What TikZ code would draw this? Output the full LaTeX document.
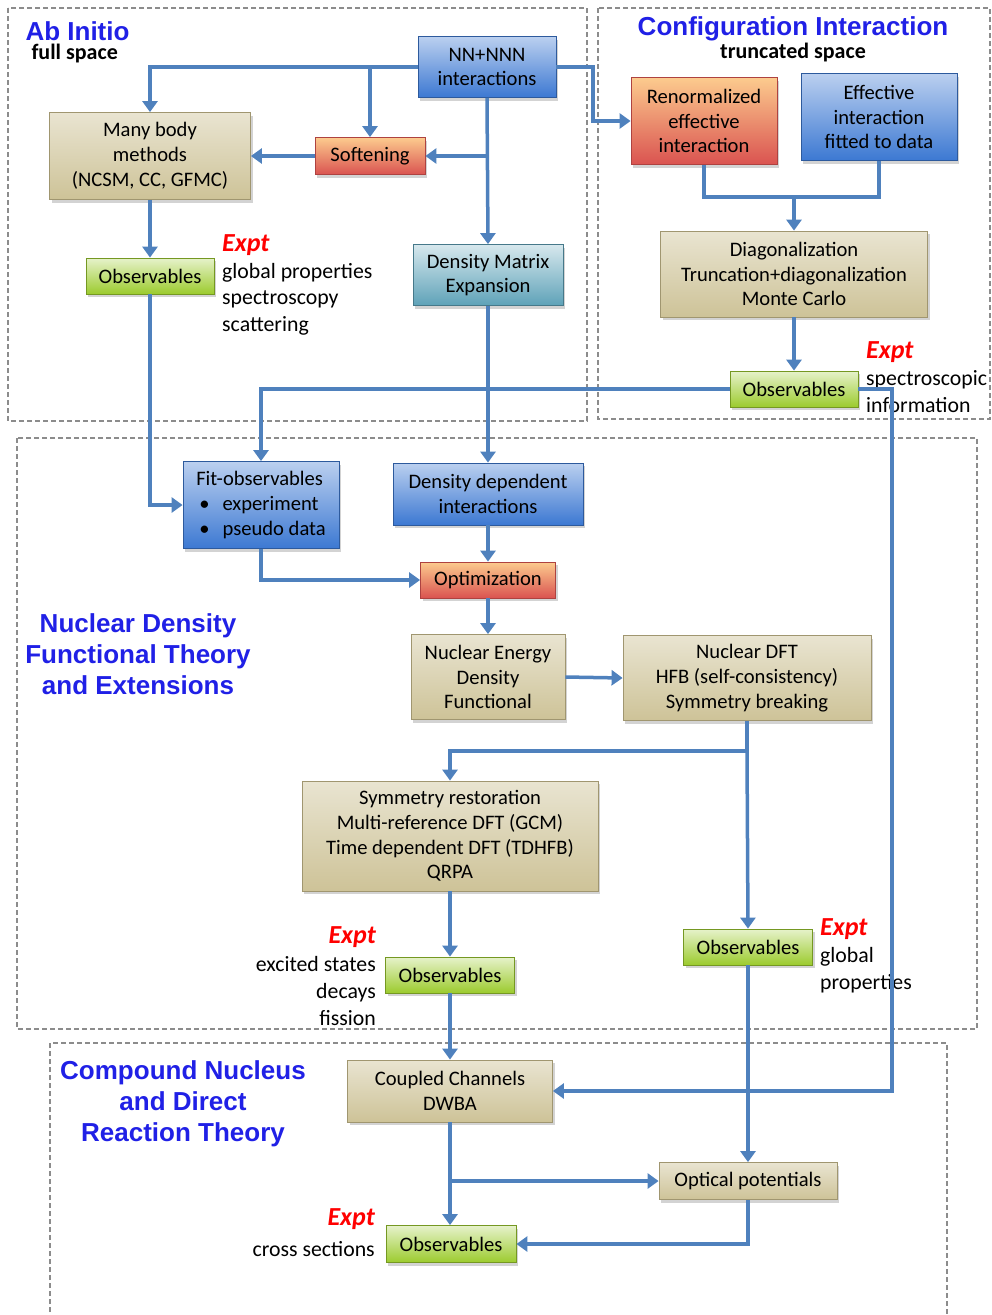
\documentclass[tikz,border=0pt]{standalone}
\usepackage{fontspec}
\setmainfont{Carlito}
\newfontfamily\headfont{Liberation Sans}
\usepackage{tikz}
\usetikzlibrary{arrows.meta,shadows,positioning}

\definecolor{arrowc}{HTML}{4F81BD}
\definecolor{headc}{HTML}{2020E6}
\definecolor{framec}{HTML}{8C8C8C}
\definecolor{tanc}{HTML}{C8BC8C}
\definecolor{bluc}{HTML}{3C78D2}
\definecolor{orac}{HTML}{FCCB8E}
\definecolor{redc}{HTML}{DA5350}
\definecolor{grnc}{HTML}{9CCB2E}
\definecolor{cyac}{HTML}{5EA2B8}

\newcommand{\expt}{{\fontsize{26}{28}\selectfont\color{red}\bfseries\itshape Expt}}

\begin{document}
\begin{tikzpicture}[
x=1pt,y=-1pt,
box/.style={
  draw,
  line width=0.8pt,
  align=center,
  inner sep=0pt,
  font=\fontsize{20.6}{24.8}\selectfont,
  drop shadow={shadow xshift=2pt,shadow yshift=-3pt,opacity=0.35}
},
sz/.style 2 args={minimum width=#1pt,minimum height=#2pt},
tanb/.style={box,draw=tanc!80!black,top color=tanc!40!white,bottom color=tanc!90!white},
blub/.style={box,draw=bluc!75!black,top color=bluc!35!white,bottom color=bluc},
redb/.style={box,draw=redc!80!black,top color=orac,bottom color=redc},
grnb/.style={box,draw=grnc!75!black,top color=grnc!25!white,bottom color=grnc},
cyab/.style={box,draw=cyac!75!black,top color=cyac!25!white,bottom color=cyac},
arr/.style={draw=arrowc,line width=3.5pt,-{Triangle[length=11pt,width=15pt]}},
ln/.style={draw=arrowc,line width=3.5pt},
frame/.style={draw=framec,line width=1.3pt,dash pattern=on 5pt off 3pt},
title/.style={headc,align=center,font=\headfont\bfseries\fontsize{26}{31}\selectfont},
sub/.style={font=\bfseries\fontsize{22}{24}\selectfont},
obs/.style={inner sep=0pt,font=\fontsize{21.8}{26.8}\selectfont}
]
\useasboundingbox (0,0) rectangle (992,1315);

% dashed regions
\draw[frame] (8,8) rectangle (587,421);
\draw[frame] (598,8) rectangle (990,419);
\draw[frame] (17,438) rectangle (977,1029);
\draw[frame] (50,1320) -- (50,1043) -- (947,1043) -- (947,1320);

% titles
\node[title,anchor=west] (tai) at (22,31) {Ab Initio};
\node[sub,anchor=west] (fs) at (28,54) {full space};
\node[title] (tci) at (793,29) {Configuration Interaction};
\node[sub] (ts) at (793,53) {truncated space};
\node[title] (tdft) at (138,654) {Nuclear Density\\Functional Theory\\and Extensions};
\node[title] (tcn) at (183,1104) {Compound Nucleus\\and Direct\\Reaction Theory};

% ab initio
\node[blub,sz={138}{61}] at (487,67) (nn) {NN+NNN\\interactions};
\node[tanb,sz={201}{87}] at (150,156) (mb) {Many body\\methods\\(NCSM, CC, GFMC)};
\node[redb,sz={110}{37}] at (370,156) (sft) {Softening};
\node[grnb,sz={128}{36}] at (150,276) (obs1) {Observables};
\node[cyab,sz={150}{61}] at (488,275) (dme) {Density Matrix\\Expansion};
\node[obs,anchor=west,align=left] at (222,285) (ex1)
  {\expt\\global properties\\spectroscopy\\scattering};

% configuration interaction
\node[redb,sz={146}{87}] at (704,121) (ren) {Renormalized\\effective\\interaction};
\node[blub,sz={156}{87}] at (879,117) (eff) {Effective\\interaction\\fitted to data};
\node[tanb,sz={267}{86}] at (794,274) (diag) {Diagonalization\\Truncation+diagonalization\\Monte Carlo};
\node[grnb,sz={128}{36}] at (794,389) (obsci) {Observables};
\node[obs,anchor=west,align=left] at (866,377) (ex2)
  {\expt\\spectroscopic\\information};

% density functional theory
\node[blub,sz={156}{87},align=left] at (261,505) (fit)
  {Fit-observables\\\hspace{3pt}\textbullet\hspace{13pt}experiment\\\hspace{3pt}\textbullet\hspace{13pt}pseudo data};
\node[blub,sz={190}{62}] at (488,494) (dd) {Density dependent\\interactions};
\node[redb,sz={135}{36}] at (488,580) (opt) {Optimization};
\node[tanb,sz={154}{85}] at (488,677) (nedf) {Nuclear Energy\\Density\\Functional};
\node[tanb,sz={248}{85}] at (747,678) (ndft) {Nuclear DFT\\HFB (self-consistency)\\Symmetry breaking};
\node[tanb,sz={296}{110}] at (450,836) (sym)
  {Symmetry restoration\\Multi-reference DFT (GCM)\\Time dependent DFT (TDHFB)\\QRPA};
\node[grnb,sz={129}{36}] at (450,975) (obsl) {Observables};
\node[grnb,sz={129}{36}] at (748,947) (obsr) {Observables};
\node[obs,anchor=east,align=right] at (376,976) (ex3)
  {\expt\\[2pt]excited states\\decays\\fission};
\node[obs,anchor=west,align=left] at (820,956) (ex4)
  {\expt\\global\\properties};

% compound nucleus
\node[tanb,sz={205}{62}] at (450,1091) (cc) {Coupled Channels\\DWBA};
\node[tanb,sz={178}{37}] at (748,1181) (optp) {Optical potentials};
\node[grnb,sz={130}{37}] at (451,1244) (obsb) {Observables};
\node[obs,anchor=east,align=right] at (375,1233) (ex5)
  {\expt\\[4pt]cross sections};

\coordinate (nnr) at (593,0);
\coordinate (jn) at (794,197);
\coordinate (rt) at (892,0);
\coordinate (sp) at (747,751);

% connectors
\draw[arr] (nn.west) -| (mb.north);
\draw[arr] (sft |- nn.west) -- (sft.north);
\draw[arr] (nn.east) -| (nnr |- ren.west) -- (ren.west);
\draw[arr] (nn.south) -- (dme.north);
\draw[arr] (nn.south |- sft.east) -- (sft.east);
\draw[arr] (sft.west) -- (mb.east);
\draw[arr] (mb.south) -- (obs1.north);
\draw[arr] (obs1.south) |- (fit.west);
\draw[arr] (dme.south) -- (dd.north);
\draw[ln] (ren.south) |- (jn) -| (eff.south);
\draw[arr] (jn) -- (diag.north);
\draw[arr] (diag.south) -- (obsci.north);
\draw[arr] (obsci.west) -| (fit.north);
\draw[arr] (obsci.east) -| (rt |- cc.east) -- (cc.east);
\draw[arr] (fit.south) |- (opt.west);
\draw[arr] (dd.south) -- (opt.north);
\draw[arr] (opt.south) -- (nedf.north);
\draw[arr] (nedf.east) -- (ndft.west);
\draw[arr] (ndft.south) |- (sym.north |- sp) -- (sym.north);
\draw[arr] (sp) -- (obsr.north);
\draw[arr] (sym.south) -- (obsl.north);
\draw[arr] (obsl.south) -- (cc.north);
\draw[arr] (obsr.south) -- (optp.north);
\draw[arr] (cc.south) -- (cc.south |- obsb.north);
\draw[arr] (cc.south |- optp.west) -- (optp.west);
\draw[arr] (optp.south) |- (obsb.east);
\end{tikzpicture}
\end{document}
